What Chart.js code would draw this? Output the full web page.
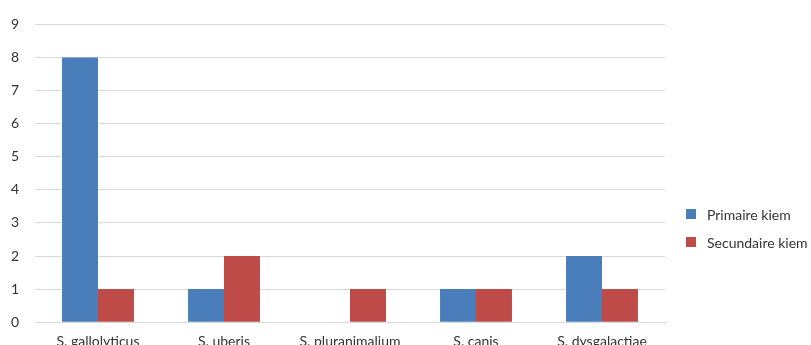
<!DOCTYPE html>
<html>
<head>
<meta charset="utf-8">
<script src="https://cdn.jsdelivr.net/npm/chart.js@4"></script>
<style>
  html, body { margin: 0; padding: 0; background: #fff; overflow: hidden; }
  #wrap { width: 811px; height: 345px; overflow: hidden; position: relative; }
  #box { width: 811px; height: 361px; position: absolute; left: 0; top: 0; }
</style>
</head>
<body>
<div id="wrap"><div id="box"><canvas id="c"></canvas></div></div>
<script>
const categories = ['S. gallolyticus', 'S. uberis', 'S. pluranimalium', 'S. canis', 'S. dysgalactiae'];
const primaire = [8, 1, 0, 1, 2];
const secundaire = [1, 2, 1, 1, 1];
const seriesNames = ['Primaire kiem', 'Secundaire kiem'];
const yTicks = [0, 1, 2, 3, 4, 5, 6, 7, 8, 9];

const FONT = 'Lato, "Open Sans", sans-serif';

// Legend drawn at the right side, stacked vertically
const sideLegend = {
  id: 'sideLegend',
  afterDraw(chart) {
    const ctx = chart.ctx;
    ctx.save();
    ctx.font = '14px ' + FONT;
    ctx.textBaseline = 'middle';
    chart.data.datasets.forEach((ds, i) => {
      const y = 214 + i * 28;
      ctx.fillStyle = ds.backgroundColor;
      ctx.fillRect(686, y - 5, 10, 10);
      ctx.fillStyle = '#333333';
      ctx.fillText(ds.label, 707, y + 1);
    });
    ctx.restore();
  }
};

new Chart(document.getElementById('c'), {
  type: 'bar',
  data: {
    labels: categories,
    datasets: [
      { label: seriesNames[0], data: primaire, backgroundColor: '#4a7ebb' },
      { label: seriesNames[1], data: secundaire, backgroundColor: '#be4b48' }
    ]
  },
  options: {
    responsive: true,
    maintainAspectRatio: false,
    animation: false,
    layout: { padding: { top: 11, right: 146, left: 0, bottom: 0 } },
    datasets: { bar: { barPercentage: 1, categoryPercentage: 0.571 } },
    plugins: { legend: { display: false }, tooltip: { enabled: false } },
    scales: {
      x: {
        grid: { display: false, drawTicks: false },
        border: { display: true, color: '#d9d9d9' },
        ticks: { color: '#333333', font: { family: FONT, size: 14 }, padding: 11, maxRotation: 0, autoSkip: false }
      },
      y: {
        min: 0,
        max: 9,
        afterFit(s) { s.width = 35; },
        afterBuildTicks(s) { s.ticks = yTicks.map(v => ({ value: v })); },
        grid: { color: '#d9d9d9', drawTicks: false },
        border: { display: false },
        ticks: { color: '#333333', font: { family: FONT, size: 14 }, padding: 16 }
      }
    }
  },
  plugins: [sideLegend]
});
</script>
</body>
</html>
